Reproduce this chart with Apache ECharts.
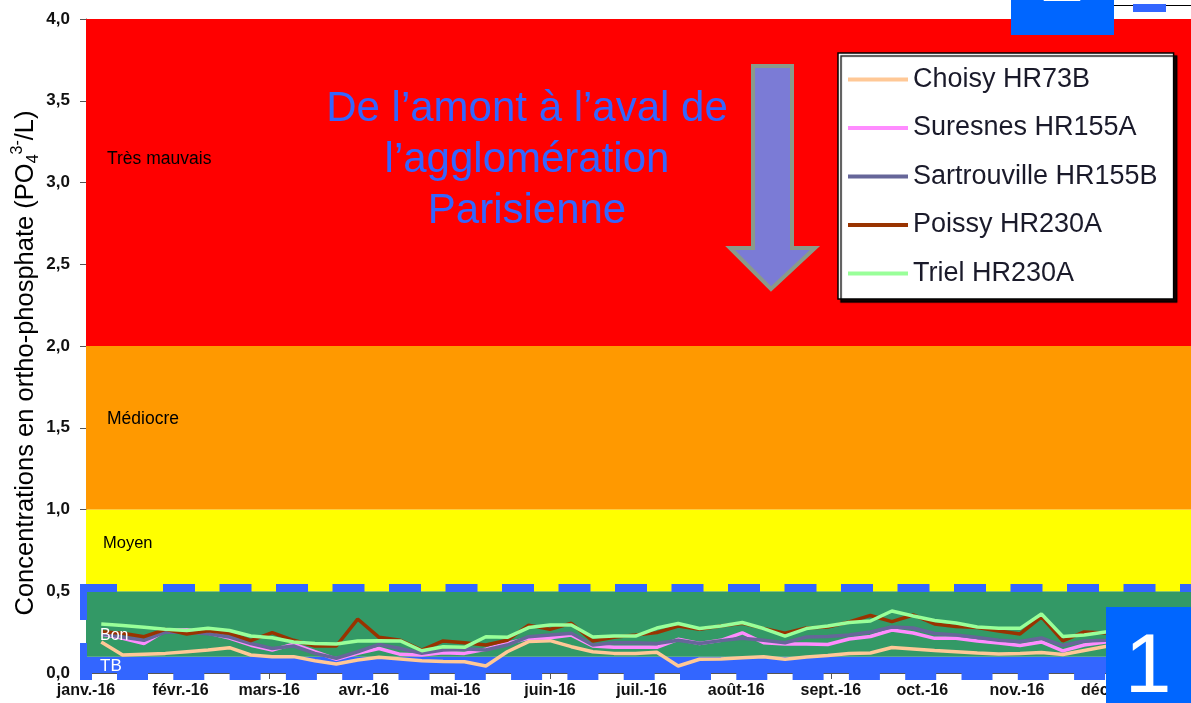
<!DOCTYPE html>
<html><head><meta charset="utf-8">
<script src="https://cdn.jsdelivr.net/npm/echarts@6/dist/echarts.min.js"></script>
<style>html,body{margin:0;padding:0;background:#fff}#c{width:1191px;height:703px}</style>
</head><body><div id="c"></div>
<script>
// ---- data ----
const weekDates = ['2016-01-06','2016-01-13','2016-01-20','2016-01-27','2016-02-03','2016-02-10','2016-02-17','2016-02-24',
  '2016-03-02','2016-03-09','2016-03-16','2016-03-23','2016-03-30','2016-04-06','2016-04-13','2016-04-20','2016-04-27',
  '2016-05-04','2016-05-11','2016-05-18','2016-05-25','2016-06-01','2016-06-08','2016-06-15','2016-06-22','2016-06-29',
  '2016-07-06','2016-07-13','2016-07-20','2016-07-27','2016-08-03','2016-08-10','2016-08-17','2016-08-24','2016-08-31',
  '2016-09-07','2016-09-14','2016-09-21','2016-09-28','2016-10-05','2016-10-12','2016-10-19','2016-10-26',
  '2016-11-02','2016-11-09','2016-11-16','2016-11-23','2016-11-30','2016-12-07'];
const choisy = [0.19,0.11,0.115,0.12,0.13,0.14,0.155,0.11,0.10,0.10,0.075,0.055,0.08,0.096,0.086,0.075,0.07,
  0.069,0.043,0.13,0.192,0.198,0.161,0.13,0.12,0.12,0.127,0.043,0.084,0.086,0.094,0.10,0.084,0.098,0.107,
  0.119,0.122,0.156,0.147,0.138,0.13,0.122,0.116,0.12,0.125,0.113,0.138,0.162,0.17];
const suresnes = [0.238,0.212,0.18,0.26,0.265,0.245,0.214,0.17,0.14,0.177,0.13,0.084,0.12,0.15,0.114,0.11,0.124,
  0.12,0.145,0.182,0.212,0.216,0.232,0.165,0.157,0.157,0.157,0.206,0.18,0.20,0.246,0.185,0.177,0.177,0.174,
  0.208,0.223,0.263,0.245,0.212,0.212,0.196,0.183,0.168,0.19,0.135,0.171,0.19,0.19];
const sartrouville = [0.24,0.22,0.20,0.25,0.25,0.24,0.22,0.18,0.15,0.165,0.12,0.09,0.13,0.175,0.15,0.12,0.14,
  0.149,0.141,0.171,0.222,0.232,0.243,0.171,0.185,0.185,0.18,0.20,0.18,0.198,0.212,0.20,0.185,0.22,0.223,
  0.232,0.251,0.281,0.275,0.242,0.232,0.217,0.20,0.193,0.214,0.168,0.196,0.20,0.21];
const poissy = [0.253,0.243,0.222,0.267,0.239,0.259,0.243,0.198,0.247,0.20,0.165,0.165,0.33,0.218,0.20,0.14,0.196,
  0.185,0.171,0.20,0.293,0.267,0.304,0.196,0.218,0.232,0.247,0.287,0.267,0.287,0.304,0.273,0.243,0.275,0.281,
  0.312,0.352,0.314,0.355,0.30,0.284,0.278,0.257,0.239,0.343,0.196,0.251,0.245,0.25];
const triel = [0.30,0.29,0.28,0.267,0.26,0.273,0.26,0.226,0.216,0.19,0.18,0.177,0.196,0.198,0.196,0.136,0.16,
  0.157,0.222,0.218,0.278,0.293,0.293,0.22,0.226,0.226,0.275,0.303,0.272,0.287,0.309,0.272,0.226,0.272,0.287,
  0.309,0.318,0.379,0.349,0.321,0.306,0.281,0.273,0.273,0.361,0.223,0.232,0.251,0.26];
const seriesNames = ['Choisy HR73B','Suresnes HR155A','Sartrouville HR155B','Poissy HR230A','Triel HR230A'];
const monthStarts = ['2016-01-01','2016-02-01','2016-03-01','2016-04-01','2016-05-01','2016-06-01',
  '2016-07-01','2016-08-01','2016-09-01','2016-10-01','2016-11-01','2016-12-01'];
const monthLabels = ['janv.-16','févr.-16','mars-16','avr.-16','mai-16','juin-16','juil.-16','août-16',
  'sept.-16','oct.-16','nov.-16','déc.-16'];
const tickMonths = ['2016-01-01','2016-03-01','2016-06-01','2016-09-01','2016-12-01'];
const bandNames = ['TB','Bon','Moyen','Médiocre','Très mauvais'];
const bandLimits = [0, 0.1, 0.5, 1, 2, 4];

// ---- styles ----
const seriesColors = ['#FFC896','#FF8CFF','#666699','#993300','#99FF99'];
const bandColors = ['#3366FF','#339966','#FFFF00','#FF9900','#FF0000'];
const bandLabelStyle = [
  {color:'#fff', fontSize:17, offset:[14,1]},
  {color:'#fff', fontSize:16, offset:[14,12]},
  {color:'#000', fontSize:16.5, offset:[17,-7]},
  {color:'#000', fontSize:17.5, offset:[21,-9]},
  {color:'#000', fontSize:17.5, offset:[21,-23]}
];
const FONT = 'Liberation Sans, Arial, sans-serif';

function dayOfYear(s){ return (Date.parse(s+'T00:00:00Z') - Date.UTC(2016,0,1)) / 86400000; }
const monthDays = monthStarts.map(dayOfYear);
const weekDays = weekDates.map(dayOfYear);
const allValues = [choisy, suresnes, sartrouville, poissy, triel];

const chart = echarts.init(document.getElementById('c'), null, {renderer:'canvas'});

function bandArea(withFill) {
  return {
    silent: true, z: withFill ? 1 : 40,
    data: bandNames.map((n, i) => [
      { name: n, yAxis: bandLimits[i],
        itemStyle: { color: withFill ? bandColors[i] : 'rgba(0,0,0,0)', opacity: 1, borderWidth: 0 },
        label: withFill ? { show: false } : { show: true, position: 'insideLeft', distance: 0, offset: bandLabelStyle[i].offset,
                 color: bandLabelStyle[i].color, fontSize: bandLabelStyle[i].fontSize, fontFamily: FONT } },
      { yAxis: bandLimits[i + 1] }
    ])
  };
}

const lineSeries = seriesNames.map((n, k) => ({
  name: n, type: 'line', z: 3 + k, symbol: 'none', smooth: false,
  color: seriesColors[k],
  lineStyle: { width: 3.5, color: seriesColors[k] },
  data: weekDays.map((d, i) => [d, allValues[k][i]])
}));

const option = {
  animation: false,
  backgroundColor: '#fff',
  grid: { left: 86, right: 0, top: 19, bottom: 30, containLabel: false, outerBoundsMode: 'none' },
  xAxis: {
    type: 'value', min: 0, max: 362,
    splitLine: { show: false },
    axisLine: { show: true, lineStyle: { color: '#555', width: 1 } },
    axisTick: { show: true, customValues: tickMonths.map(dayOfYear), length: 6, lineStyle: { color: '#555' } },
    axisLabel: {
      customValues: monthDays, margin: 10, fontSize: 16, fontWeight: 'bold', color: '#111', fontFamily: FONT,
      formatter: v => monthLabels[monthDays.indexOf(Math.round(v))] || ''
    }
  },
  yAxis: {
    type: 'value', min: 0, max: 4, interval: 0.5,
    splitLine: { show: false },
    axisLine: { show: true, lineStyle: { color: '#555' } },
    axisTick: { show: true, length: 6, lineStyle: { color: '#555' } },
    axisLabel: { margin: 16, fontSize: 17, fontWeight: 'bold', color: '#111', fontFamily: FONT,
      formatter: v => v.toFixed(1).replace('.', ',') },
    name: '{t|Concentrations en ortho-phosphate (PO}{sub|4}{sup|3-}{t|/L)}',
    nameLocation: 'middle', nameRotate: 90, nameGap: 44, nameMoveOverlap: false,
    nameTextStyle: {
      padding: [0, 34, 0, 0],
      rich: {
        t: { fontSize: 25.5, color: '#000', fontFamily: FONT, lineHeight: 32 },
        sub: { fontSize: 16, color: '#000', fontFamily: FONT, verticalAlign: 'bottom', lineHeight: 16 },
        sup: { fontSize: 16, color: '#000', fontFamily: FONT, verticalAlign: 'top', lineHeight: 16 }
      }
    }
  },
  legend: {
    data: seriesNames, orient: 'vertical', left: 838, top: 53,
    icon: 'rect', itemWidth: 60, itemHeight: 4, itemGap: 21.5,
    padding: [13, 16, 12, 10], backgroundColor: '#fff', borderColor: '#000', borderWidth: 1.5,
    shadowColor: 'rgba(0,0,0,0.9)', shadowOffsetX: 3, shadowOffsetY: 3, shadowBlur: 1,
    selectedMode: false,
    textStyle: { fontSize: 27, color: '#1a1a2a', fontFamily: FONT }
  },
  series: [
    { name: 'bands', type: 'line', data: [], z: 1, silent: true, markArea: bandArea(true) },
    { name: 'bandLabels', type: 'line', data: [], z: 40, silent: true, markArea: bandArea(false) }
  ].concat(lineSeries),
  graphic: [
    { type: 'text', z: 100, x: 527, y: 160,
      style: { text: 'De l’amont à l’aval de\nl’agglomération\nParisienne', fill: '#3366FF',
               font: '42px ' + FONT, lineHeight: 51, align: 'center', verticalAlign: 'middle' } },
    { type: 'polygon', z: 100,
      shape: { points: [[753,66],[792,66],[792,248],[815,248],[771,289],[730,248],[753,248]] },
      style: { fill: '#7B7BD6', stroke: '#8A9A8A', lineWidth: 4 } },
    // dashed blue frame around the "good" zone
    { type: 'line', z: 100, shape: { x1: 163, y1: 588, x2: 1191, y2: 588 },
      style: { stroke: '#3366FF', lineWidth: 8, lineDash: [32, 24.5] } },
    { type: 'rect', z: 100, shape: { x: 80, y: 584, width: 37, height: 8 }, style: { fill: '#3366FF' } },
    { type: 'line', z: 100, shape: { x1: 117, y1: 676.5, x2: 1191, y2: 676.5 },
      style: { stroke: '#3366FF', lineWidth: 7, lineDash: [31, 25.3] } },
    { type: 'rect', z: 100, shape: { x: 80, y: 673, width: 12, height: 7 }, style: { fill: '#3366FF' } },
    { type: 'line', z: 100, shape: { x1: 83.5, y1: 584, x2: 83.5, y2: 680 },
      style: { stroke: '#3366FF', lineWidth: 7, lineDash: [36, 23] } },
    // box "1"
    { type: 'rect', z: 101, shape: { x: 1106, y: 607, width: 90, height: 100 }, style: { fill: '#0066FF' } },
    { type: 'text', z: 102, x: 1148, y: 669,
      style: { text: '1', fill: '#fff', font: '84px ' + FONT, align: 'center', verticalAlign: 'middle' } },
    // box "2" (mostly cropped)
    { type: 'rect', z: 101, shape: { x: 1011, y: 0, width: 103, height: 35 }, style: { fill: '#0066FF' } },
    { type: 'text', z: 102, x: 1062, y: -21,
      style: { text: '2', fill: '#fff', font: '80px ' + FONT, align: 'center', verticalAlign: 'middle' } },
    { type: 'line', z: 101, shape: { x1: 1114, y1: 5.5, x2: 1191, y2: 5.5 }, style: { stroke: '#000', lineWidth: 1.2 } },
    { type: 'rect', z: 101, shape: { x: 1133, y: 4, width: 33, height: 8 }, style: { fill: '#3366FF' } }
  ]
};
chart.setOption(option);
</script></body></html>
